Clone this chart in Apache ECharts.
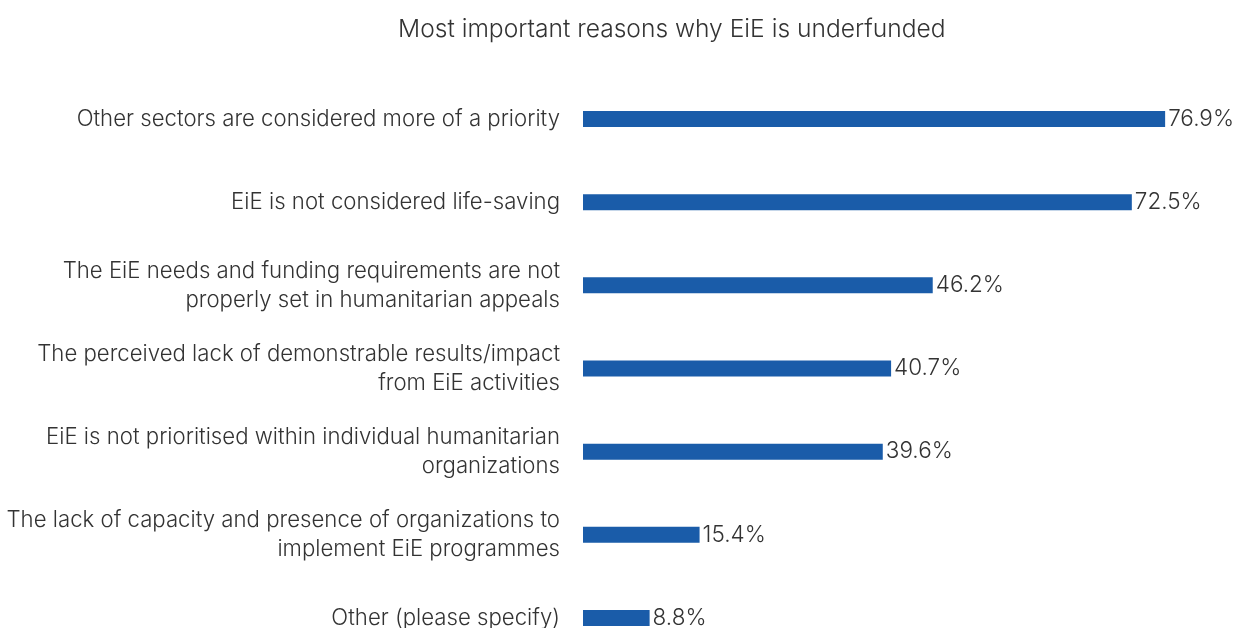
<!DOCTYPE html>
<html>
<head>
<meta charset="utf-8">
<script src="https://cdn.jsdelivr.net/npm/echarts@6/dist/echarts.min.js"></script>
<style>html,body{margin:0;padding:0;background:#fff}#c{width:1235px;height:628px}</style>
</head>
<body>
<div id="c"></div>
<script>
const categories = [
  "Other sectors are considered more of a priority",
  "EiE is not considered life-saving",
  "The EiE needs and funding requirements are not\nproperly set in humanitarian appeals",
  "The perceived lack of demonstrable results/impact\nfrom EiE activities",
  "EiE is not prioritised within individual humanitarian\norganizations",
  "The lack of capacity and presence of organizations to\nimplement EiE programmes",
  "Other (please specify)"
];
const values = [76.9, 72.5, 46.2, 40.7, 39.6, 15.4, 8.8];
const titleText = "Most important reasons why EiE is underfunded";

const FONT = "Inter, 'Liberation Sans', sans-serif";
const chart = echarts.init(document.getElementById('c'));
chart.setOption({
  animation: false,
  title: {
    text: titleText,
    left: 393,
    top: 12,
    textStyle: { fontFamily: FONT, fontWeight: 300, fontSize: 24.6, color: '#333' }
  },
  grid: { left: 583, top: 77.4, width: 605.6, height: 582.2, containLabel: false, outerBoundsMode: 'none' },
  xAxis: {
    type: 'value', min: 0, max: 80,
    show: false
  },
  yAxis: {
    type: 'category',
    data: categories,
    inverse: true,
    axisLine: { show: false },
    axisTick: { show: false },
    splitLine: { show: false },
    axisLabel: {
      margin: 23,
      fontFamily: FONT, fontWeight: 300, fontSize: 22.2, color: '#333',
      lineHeight: 29, align: 'right'
    }
  },
  series: [{
    type: 'bar',
    data: values,
    barWidth: 16,
    itemStyle: { color: '#1a5ca9' },
    label: {
      show: true, position: 'right', distance: 3,
      formatter: p => p.value.toFixed(1) + '%',
      fontFamily: FONT, fontWeight: 300, fontSize: 22.5, color: '#333'
    }
  }]
});
</script>
</body>
</html>
